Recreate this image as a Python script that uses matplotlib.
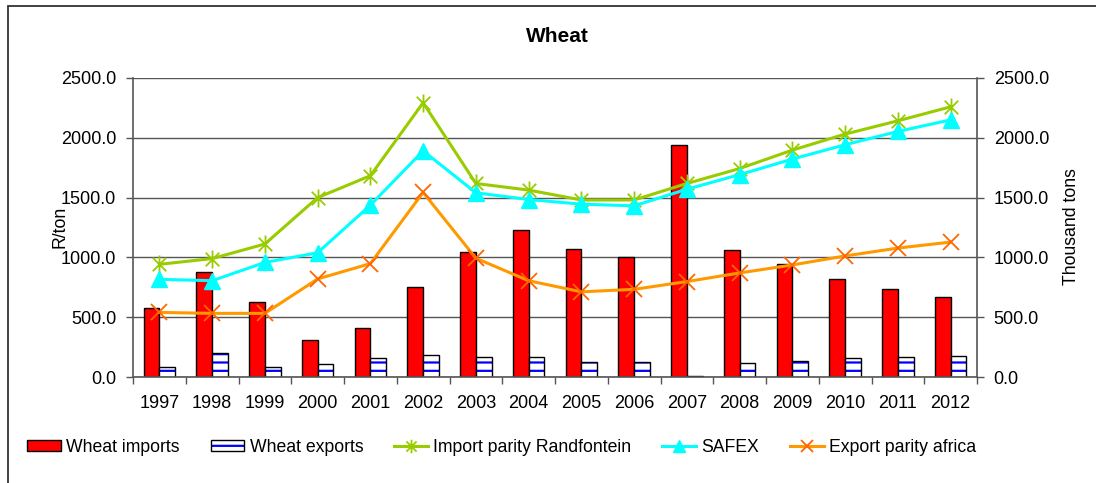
import matplotlib
matplotlib.use("Agg")
import matplotlib.pyplot as plt
from matplotlib.path import Path
from matplotlib.patches import Rectangle
import numpy as np

plt.rcParams['font.family'] = ['Liberation Sans', 'DejaVu Sans']
plt.rcParams['hatch.linewidth'] = 1.6

years = ['1997', '1998', '1999', '2000', '2001', '2002', '2003', '2004',
         '2005', '2006', '2007', '2008', '2009', '2010', '2011', '2012']
wheat_imports = [575, 875, 630, 307, 412, 750, 1043, 1232,
                 1070, 1005, 1940, 1062, 942, 817, 733, 666]
wheat_exports = [80, 203, 80, 109, 156, 184, 167, 167,
                 125, 125, 10, 117, 136, 156, 167, 175]
import_parity = [942, 990, 1112, 1500, 1683, 2293, 1618, 1563,
                 1480, 1480, 1618, 1743, 1897, 2031, 2142, 2259]
safex = [817, 805, 958, 1039, 1437, 1891, 1540, 1484,
         1445, 1431, 1570, 1692, 1822, 1942, 2053, 2150]
export_parity = [540, 532, 532, 820, 948, 1543, 993, 805,
                 712, 733, 798, 870, 937, 1012, 1078, 1128]

# asterisk marker like the spreadsheet "star"
M, L = Path.MOVETO, Path.LINETO
star = Path([(0, -1), (0, 1), (-0.75, -0.75), (0.75, 0.75), (-0.75, 0.75), (0.75, -0.75)],
            [M, L, M, L, M, L])

fig = plt.figure(figsize=(10.96, 4.83), dpi=100)
ax = fig.add_axes([133 / 1096, 1 - 377 / 483, (977 - 133) / 1096, (377 - 78) / 483])

x = np.arange(len(years))
w = 0.3

b1 = ax.bar(x - w / 2, wheat_imports, w, color='#FF0000', edgecolor='black', linewidth=1, zorder=2)
b2 = ax.bar(x + w / 2, wheat_exports, w, color='white', edgecolor='#0000FF', linewidth=0,
            hatch='--', zorder=2)
b3 = ax.bar(x + w / 2, wheat_exports, w, fill=False, edgecolor='black', linewidth=1, zorder=2.1)

l1, = ax.plot(x, import_parity, color='#99CC00', lw=2.2, marker=star, ms=13, mew=1.3, zorder=3)
l2, = ax.plot(x, safex, color='#00FFFF', lw=2.2, marker='^', ms=11, zorder=3)
l3, = ax.plot(x, export_parity, color='#FF9900', lw=2.2, marker='x', ms=11, mew=1.3,
              mec='#FF6600', zorder=3)

ax.set_xlim(-0.5, len(years) - 0.5)
ax.set_ylim(0, 2500)
ax.set_yticks(np.arange(0, 2501, 500))
ax.yaxis.set_major_formatter(matplotlib.ticker.FormatStrFormatter('%.1f'))
ax.grid(axis='y', color='#555555', lw=1, zorder=0)
ax.set_axisbelow(True)

ax.set_xticks(x)
ax.set_xticklabels(years)
ax.set_xticks(np.arange(-0.5, len(years)), minor=True)
ax.tick_params(axis='x', which='major', length=0, pad=13, labelsize=13)
ax.tick_params(axis='x', which='minor', length=5, width=1, color='#555555')
ax.tick_params(axis='y', length=5, width=1, color='#555555', pad=7, labelsize=13)

for s in ['top', 'right']:
    ax.spines[s].set_visible(False)
for s in ['left', 'bottom']:
    ax.spines[s].set_color('#555555')
    ax.spines[s].set_linewidth(1.2)

ax2 = ax.secondary_yaxis('right')
ax2.set_yticks(np.arange(0, 2501, 500))
ax2.yaxis.set_major_formatter(matplotlib.ticker.FormatStrFormatter('%.1f'))
ax2.tick_params(axis='y', length=5, width=1, color='#555555', pad=7, labelsize=13)
ax2.spines['right'].set_color('#555555')
ax2.spines['right'].set_linewidth(1.2)

fig.text(557 / 1096, 1 - 36 / 483, 'Wheat', ha='center', va='center', fontsize=15, fontweight='bold')
fig.text(60 / 1096, 1 - 227 / 483, 'R/ton', rotation=90, ha='center', va='center', fontsize=12.7)
fig.text(1072 / 1096, 1 - 227 / 483, 'Thousand tons', rotation=90, ha='center', va='center', fontsize=12.7)

fig.legend([b1, (b2, b3), l1, l2, l3],
           ['Wheat imports', 'Wheat exports', 'Import parity Randfontein', 'SAFEX', 'Export parity africa'],
           loc='center left', bbox_to_anchor=(27 / 1096, 1 - 447 / 483), ncol=5, frameon=False,
           fontsize=12.7, handlelength=1.9, handleheight=0.6, handletextpad=0.32,
           columnspacing=1.75, borderaxespad=0, borderpad=0, markerscale=0.75)

fig.patches.append(Rectangle((8 / 1096, -0.05), 1.2, 1 - 6 / 483 + 0.05, transform=fig.transFigure,
                             fill=False, edgecolor='#333333', lw=1.3))

fig.savefig('out.png', dpi=100)
